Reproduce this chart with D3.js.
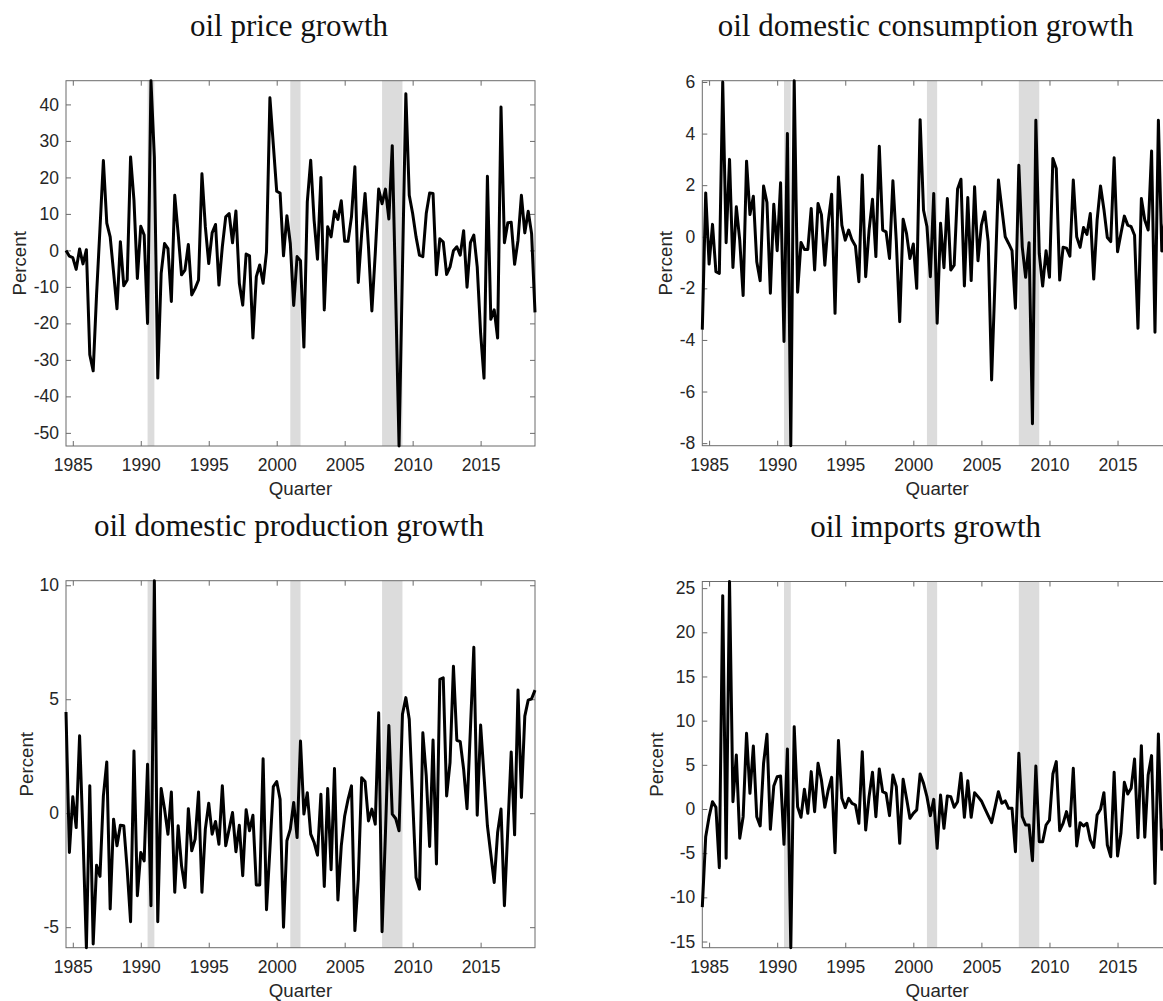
<!DOCTYPE html>
<html>
<head>
<meta charset="utf-8">
<script src="https://cdn.jsdelivr.net/npm/d3@7"></script>
<style>
  html, body { margin: 0; padding: 0; background: #fff; overflow: hidden; }
  svg { display: block; }
</style>
</head>
<body>
<svg id="fig" width="1163" height="1001"></svg>
<script>
// Quarterly sample, 1984Q3 through 2019Q1 (decimal years, start of quarter)
const firstYear = 1984, firstQ = 3, nQuarters = 139;
const quarters = d3.range(nQuarters).map(i => firstYear + (firstQ - 1 + i) / 4);

const yearTicks = [1985, 1990, 1995, 2000, 2005, 2010, 2015];

// NBER recession spans (decimal years)
const recessions = [[1990.5, 1991.0], [2001.0, 2001.75], [2007.75, 2009.25]];

// Quarterly growth rates, percent
const priceGrowth = [
  0, -1.6, -2.0, -5.2, 0.4, -3.7, 0.2, -28.6, -33.0, -12.0,
  6.0, 24.6, 7.5, 3.7, -6.0, -16.0, 2.4, -9.7, -8.1, 25.6,
  13.7, -7.7, 6.6, 4.2, -20.0, 46.5, 25.6, -35.0, -6.3, 1.9,
  0.5, -14.0, 15.1, 4.6, -6.7, -5.4, 1.6, -12.2, -10.4, -8.1,
  21.0, 6.5, -3.6, 4.8, 7.1, -9.5, 1.0, 9.2, 10.1, 2.1,
  10.8, -9.0, -15.0, -1.0, -1.5, -24.0, -7.2, -4.0, -9.0, -0.4,
  41.8, 29.0, 16.2, 15.7, -1.5, 9.5, 1.9, -15.1, -1.7, -2.8,
  -26.5, 13.3, 24.7, 8.3, -2.4, 20.0, -16.3, 6.5, 3.7, 10.7,
  8.5, 13.6, 2.5, 2.5, 9.2, 22.9, -8.8, 4.6, 15.6, 1.0,
  -16.6, -0.8, 16.8, 12.8, 16.8, 8.6, 28.7, -12.0, -53.6, -5.0,
  42.9, 15.1, 10.1, 3.7, -1.3, -1.7, 10.1, 15.7, 15.6, -6.7,
  3.2, 2.3, -6.6, -4.5, -0.1, 1.0, -1.3, 5.4, -10.1, 2.1,
  4.2, -4.5, -22.7, -35.0, 20.3, -18.9, -16.3, -24.0, 39.3, 2.1,
  7.6, 7.7, -3.8, 2.8, 15.1, 4.8, 10.7, 4.6, -17.0
];

const consumptionGrowth = [
  -3.6, 1.7, -1.06, 0.48, -1.35, -1.42, 6.0, -0.23, 3.0, -1.19,
  1.16, -0.13, -2.28, 2.93, 0.86, 1.57, -0.97, -1.7, 1.97, 1.33,
  -2.19, 1.26, -0.54, 2.09, -4.06, 4.0, -8.1, 6.05, -2.15, -0.22,
  -0.49, -0.49, 1.1, -1.29, 1.29, 0.86, -1.1, 0.58, 1.65, -2.97,
  2.32, 0.45, -0.13, 0.26, -0.13, -0.36, -1.74, 2.39, -1.55, 0.26,
  1.45, -0.77, 3.51, 0.26, 0.19, -0.84, 2.17, -0.19, -3.29, 0.68,
  0.13, -0.84, -0.28, -2.0, 4.54, 1.03, 0.4, -1.55, 1.68, -3.35,
  0.52, -1.2, 1.48, -1.29, -1.1, 1.85, 2.23, -1.91, 1.52, -1.7,
  1.94, -0.93, 0.45, 0.97, -0.19, -5.55, -1.7, 2.2, 1.1, 0.0,
  -0.26, -0.54, -2.77, 2.77, -0.39, -1.57, -0.23, -7.25, 4.52, -0.65,
  -1.91, -0.54, -1.57, 3.03, 2.65, -1.68, -0.41, -0.44, -0.75, 2.2,
  0.0, -0.41, 0.36, 0.09, 0.9, -1.64, 0.65, 1.97, 1.06, -0.03,
  -0.19, 3.06, -0.58, 0.13, 0.8, 0.45, 0.39, 0.06, -3.55, 1.48,
  0.65, 0.26, 3.32, -3.7, 4.52, -0.55, 0.8, -0.4, 1.1
];

const productionGrowth = [
  4.44, -1.72, 0.72, -0.63, 3.4, -1.0, -5.9, 1.2, -5.74, -2.28,
  -2.77, 0.76, 2.25, -4.2, -0.26, -1.43, -0.53, -0.55, -2.45, -4.76,
  2.73, -3.62, -1.72, -2.09, 2.15, -4.06, 10.2, -4.76, 1.08, 0.18,
  -0.92, 0.93, -3.47, -0.55, -2.31, -3.26, 0.2, -1.65, -1.14, 0.93,
  -3.47, -0.7, 0.44, -0.92, -0.36, -1.36, 1.2, -1.43, -0.7, 0.03,
  -1.69, -0.53, -2.74, 0.15, -0.77, -0.09, -3.15, -3.15, 2.39, -4.23,
  -1.58, 1.17, 1.39, 0.61, -5.0, -1.21, -0.7, 0.47, -1.07, 3.17,
  -0.04, 0.9, -0.92, -1.28, -1.84, 0.83, -3.21, 1.08, -2.48, 1.96,
  -3.81, -1.43, -0.12, 0.61, 1.2, -5.15, -2.89, 1.56, 1.39, -0.34,
  0.18, -0.48, 4.41, -5.2, -0.85, 3.85, -0.04, -0.23, -0.77, 4.34,
  5.07, 4.12, 0.61, -2.82, -3.33, 3.53, 1.64, -1.46, 3.21, -2.23,
  5.87, 5.94, 0.76, 2.22, 6.45, 3.2, 3.14, 1.93, 0.2, 3.7,
  7.28, -0.09, 3.87, 1.64, -0.55, -1.8, -3.04, -0.85, 0.18, -4.06,
  -0.7, 2.69, -0.95, 5.4, 0.69, 4.26, 4.96, 5.02, 5.4
];

const importsGrowth = [
  -11.1, -3.13, -0.87, 0.83, 0.19, -6.64, 24.15, -5.58, 25.75, 0.83,
  6.1, -3.3, -0.87, 8.57, 1.77, 7.13, -0.87, -1.92, 5.17, 8.45,
  -2.3, 2.6, 3.66, 3.74, -4.0, 6.79, -15.7, 9.32, 0.26, -0.94,
  2.23, -0.49, 4.23, -0.3, 5.17, 3.28, 0.19, 2.15, 3.58, -4.94,
  7.74, 1.21, 0.15, 1.21, 0.64, 0.45, -1.62, 6.49, -2.38, 1.4,
  4.15, -0.87, 4.53, 1.96, 1.77, -0.75, 3.85, 2.53, -3.89, 3.36,
  1.21, -1.06, -0.49, -0.1, 3.96, 2.9, 1.4, -0.75, 1.09, -4.45,
  1.58, -2.19, 1.47, 1.4, 0.19, 0.83, 4.04, -0.94, 3.21, -0.94,
  1.85, 1.4, 0.91, 0.08, -0.75, -1.55, 0.19, 1.96, 0.64, 0.91,
  0.08, 0.08, -4.83, 6.3, -0.87, -1.81, -1.81, -5.85, 4.87, -3.7,
  -3.7, -1.81, -1.25, 3.96, 5.36, -2.45, -1.62, -0.3, -1.92, 4.6,
  -4.19, -1.55, -1.92, -1.62, -3.5, -4.34, -0.68, -0.04, 1.85, -4.08,
  -5.4, 4.15, -5.32, -2.75, 3.02, 1.7, 2.34, 5.66, -3.25, 7.17,
  -3.2, 3.85, 6.04, -8.42, 8.49, -4.57, -1.5, 2.0, 0.8
];

const titles = [
  "oil price growth",
  "oil domestic consumption growth",
  "oil domestic production growth",
  "oil imports growth"
];
const yTickSets = [
  [-50, -40, -30, -20, -10, 0, 10, 20, 30, 40],
  [-8, -6, -4, -2, 0, 2, 4, 6],
  [-5, 0, 5, 10],
  [-15, -10, -5, 0, 5, 10, 15, 20, 25]
];
const seriesList = [priceGrowth, consumptionGrowth, productionGrowth, importsGrowth];

// Axes boxes (px) and y-label offsets for the 2x2 grid
const boxes = [
  {left: 66,    right: 535,  top: 80.7,  bottom: 446,   ylab: 40.5},
  {left: 702.3, right: 1172, top: 80.7,  bottom: 445.7, ylab: 30},
  {left: 66,    right: 535,  top: 580.7, bottom: 947.7, ylab: 33},
  {left: 702.3, right: 1172, top: 581.5, bottom: 947.7, ylab: 39}
];

const svg = d3.select("#fig");
const axisColor = "#6b6b6b";
const textColor = "#262626";
const tickLen = 5;

boxes.forEach((b, k) => {
  const values = seriesList[k];
  const x = d3.scaleLinear().domain(d3.extent(quarters)).range([b.left, b.right]);
  const y = d3.scaleLinear().domain(d3.extent(values)).range([b.bottom, b.top]);
  const g = svg.append("g");

  // recession shading
  g.append("g").selectAll("rect").data(recessions).join("rect")
    .attr("x", d => x(d[0]))
    .attr("width", d => x(d[1]) - x(d[0]))
    .attr("y", b.top)
    .attr("height", b.bottom - b.top)
    .attr("fill", "#dcdcdc");

  // axes with inward ticks on all four sides
  const styleAxis = sel => {
    sel.select(".domain").remove();
    sel.selectAll(".tick line").attr("stroke", axisColor).attr("stroke-width", 1);
    sel.selectAll(".tick text")
      .attr("fill", textColor)
      .style("font-family", "'Liberation Sans', Arial, sans-serif")
      .style("font-size", "17.5px");
  };

  g.append("g").attr("transform", `translate(0,${b.bottom})`)
    .call(d3.axisBottom(x).tickValues(yearTicks).tickFormat(d3.format("d"))
      .tickSizeInner(-tickLen).tickSizeOuter(0).tickPadding(13))
    .call(styleAxis);
  g.append("g").attr("transform", `translate(0,${b.top})`)
    .call(d3.axisTop(x).tickValues(yearTicks).tickFormat("")
      .tickSizeInner(-tickLen).tickSizeOuter(0))
    .call(styleAxis);
  g.append("g").attr("transform", `translate(${b.left},0)`)
    .call(d3.axisLeft(y).tickValues(yTickSets[k]).tickFormat(d3.format("d"))
      .tickSizeInner(-tickLen).tickSizeOuter(0).tickPadding(7))
    .call(styleAxis);
  g.append("g").attr("transform", `translate(${b.right},0)`)
    .call(d3.axisRight(y).tickValues(yTickSets[k]).tickFormat("")
      .tickSizeInner(-tickLen).tickSizeOuter(0))
    .call(styleAxis);

  // plain hyphen for negative tick labels
  g.selectAll(".tick text").filter(function () { return this.textContent.startsWith("−"); })
    .text(function () { return this.textContent.replace("−", "-"); });

  // box outline
  g.append("rect")
    .attr("x", b.left).attr("y", b.top)
    .attr("width", b.right - b.left).attr("height", b.bottom - b.top)
    .attr("fill", "none").attr("stroke", axisColor).attr("stroke-width", 1);

  // series line
  const line = d3.line().x((d, i) => x(quarters[i])).y(d => y(d));
  g.append("path").datum(values)
    .attr("d", line)
    .attr("fill", "none")
    .attr("stroke", "#000")
    .attr("stroke-width", 3)
    .attr("stroke-linejoin", "round");

  // title
  const cx = (b.left + b.right) / 2;
  g.append("text")
    .attr("x", cx - 11.5).attr("y", b.top - 44.7)
    .attr("text-anchor", "middle")
    .attr("fill", "#111")
    .style("font-family", "'Liberation Serif', 'Times New Roman', serif")
    .style("font-size", "31px")
    .text(titles[k]);

  // x label
  g.append("text")
    .attr("x", cx).attr("y", b.bottom + 49)
    .attr("text-anchor", "middle")
    .attr("fill", textColor)
    .style("font-family", "'Liberation Sans', Arial, sans-serif")
    .style("font-size", "18.7px")
    .text("Quarter");

  // y label
  g.append("text")
    .attr("transform", `translate(${b.left - b.ylab},${(b.top + b.bottom) / 2}) rotate(-90)`)
    .attr("text-anchor", "middle")
    .attr("fill", textColor)
    .style("font-family", "'Liberation Sans', Arial, sans-serif")
    .style("font-size", "18.7px")
    .text("Percent");
});
</script>
</body>
</html>
